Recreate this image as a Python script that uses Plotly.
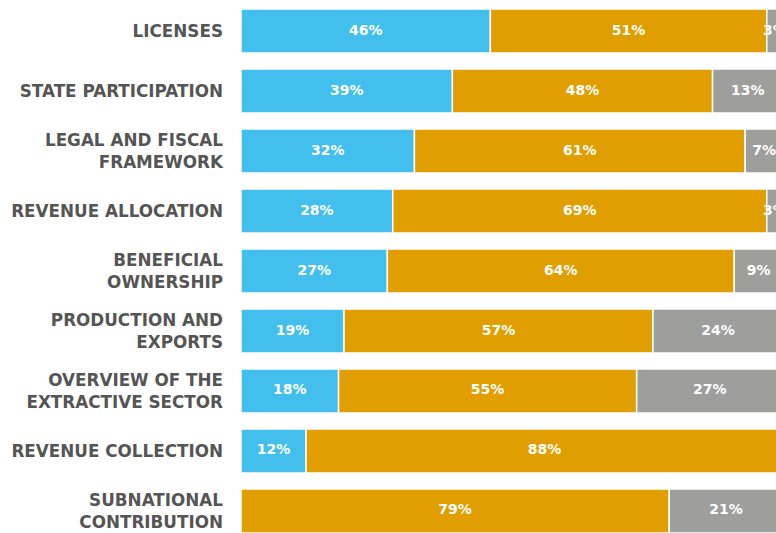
import plotly.graph_objects as go

categories = [
    "LICENSES",
    "STATE PARTICIPATION",
    "LEGAL AND FISCAL<br>FRAMEWORK",
    "REVENUE ALLOCATION",
    "BENEFICIAL<br>OWNERSHIP",
    "PRODUCTION AND<br>EXPORTS",
    "OVERVIEW OF THE<br>EXTRACTIVE SECTOR",
    "REVENUE COLLECTION",
    "SUBNATIONAL<br>CONTRIBUTION",
]
blue_vals = [46, 39, 32, 28, 27, 19, 18, 12, 0]
orange_vals = [51, 48, 61, 69, 64, 57, 55, 88, 79]
gray_vals = [3, 13, 7, 3, 9, 24, 27, 0, 21]

series = [
    ("blue", blue_vals, "#43BFEE"),
    ("orange", orange_vals, "#E19E00"),
    ("gray", gray_vals, "#9E9E9C"),
]

fig = go.Figure()
base = [0] * len(categories)
for name, vals, color in series:
    fig.add_trace(go.Bar(
        y=categories, x=vals, base=base, orientation="h", name=name,
        marker=dict(color=color, line=dict(color="white", width=1.5)),
        hoverinfo="skip",
    ))
    mids = [b + v / 2 for b, v in zip(base, vals)]
    keep = [i for i, v in enumerate(vals) if v > 0]
    fig.add_trace(go.Scatter(
        y=[categories[i] for i in keep], x=[mids[i] for i in keep],
        text=[f"{vals[i]}%" for i in keep], mode="text",
        textfont=dict(family="DejaVu Sans", size=14, color="white", weight="bold"),
        textposition="middle center", cliponaxis=False, hoverinfo="skip",
    ))
    base = [b + v for b, v in zip(base, vals)]

fig.update_layout(
    width=776, height=533,
    margin=dict(l=241, r=0, t=0, b=0),
    paper_bgcolor="white", plot_bgcolor="white",
    barmode="overlay", bargap=0.267,
    showlegend=False,
    xaxis=dict(range=[0, 98.7], showgrid=False, zeroline=False,
               showticklabels=False, fixedrange=True),
    yaxis=dict(type="category", categoryorder="array", categoryarray=categories,
               range=[8.367, -0.517], showgrid=False, zeroline=False,
               ticklabelstandoff=17, fixedrange=True,
               tickfont=dict(family="DejaVu Sans", size=16.8, color="#555555", weight="bold")),
)

fig.write_html(
    "out.html",
    config={"displayModeBar": False, "staticPlot": True},
    post_script=(
        "document.documentElement.style.overflow='hidden';"
        "document.body.style.overflow='hidden';"
        "document.body.style.margin='0';"
    ),
)
